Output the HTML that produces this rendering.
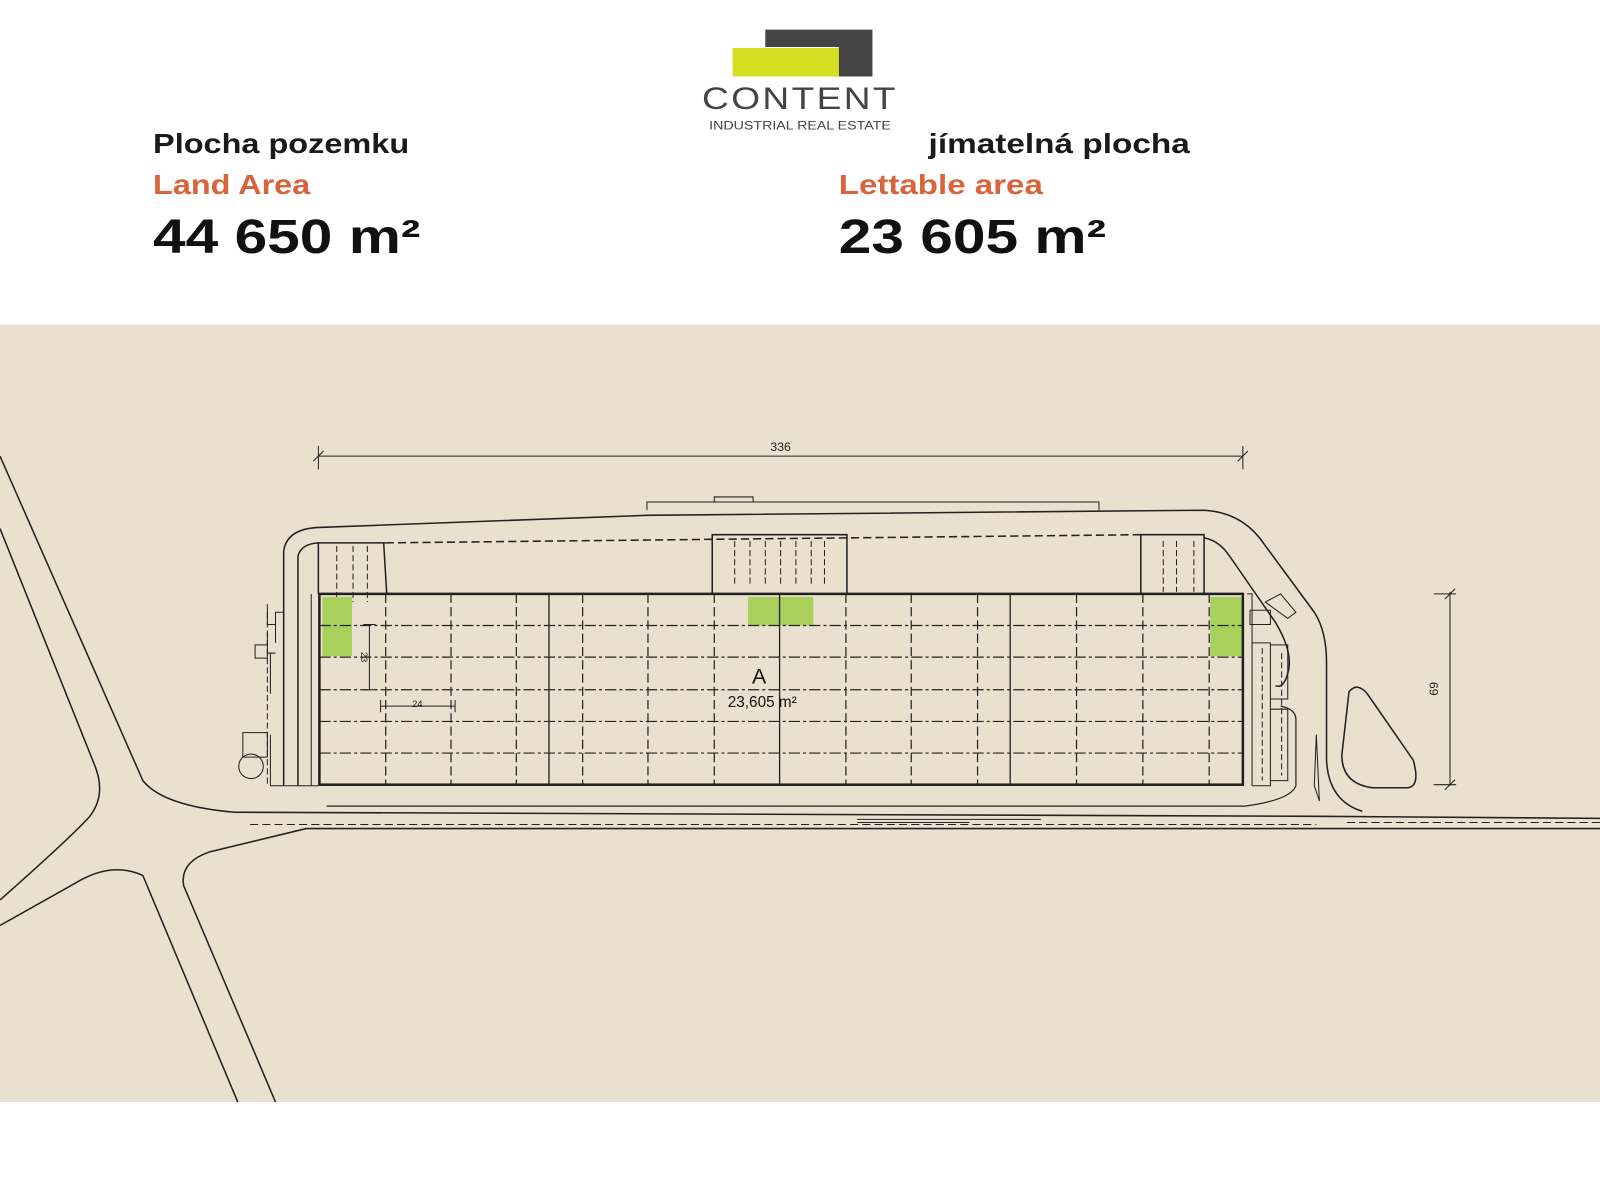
<!DOCTYPE html>
<html><head><meta charset="utf-8"><style>
html,body{margin:0;padding:0;background:#fff;}
svg{display:block;}
text{font-family:"Liberation Sans",sans-serif;}
</style></head><body>
<svg width="1600" height="1200" viewBox="0 0 1568 1176" preserveAspectRatio="none" xmlns="http://www.w3.org/2000/svg">
<rect x="0" y="0" width="1568" height="1176" fill="#fff"/>
<!-- logo -->
<path d="M750,29 H855 V75 H822 V46 H750 Z" fill="#444"/>
<rect x="718" y="47" width="104" height="28" fill="#d4df22"/>
<text x="784" y="107" font-size="31" fill="#444" text-anchor="middle" textLength="192" lengthAdjust="spacingAndGlyphs" letter-spacing="2">CONTENT</text>
<text x="784" y="127" font-size="12" fill="#444" text-anchor="middle" textLength="178" lengthAdjust="spacingAndGlyphs">INDUSTRIAL REAL ESTATE</text>
<!-- headings -->
<text x="150" y="150" font-size="27" font-weight="bold" fill="#1a1a1a" textLength="251" lengthAdjust="spacingAndGlyphs">Plocha pozemku</text>
<text x="150" y="190" font-size="27" font-weight="bold" fill="#d8643c" textLength="154" lengthAdjust="spacingAndGlyphs">Land Area</text>
<text x="150" y="248" font-size="47" font-weight="bold" fill="#111" textLength="262" lengthAdjust="spacingAndGlyphs">44 650 m²</text>
<text x="910" y="150" font-size="27" font-weight="bold" fill="#1a1a1a" textLength="256" lengthAdjust="spacingAndGlyphs">jímatelná plocha</text>
<text x="822" y="190" font-size="27" font-weight="bold" fill="#d8643c" textLength="200" lengthAdjust="spacingAndGlyphs">Lettable area</text>
<text x="822" y="248" font-size="47" font-weight="bold" fill="#111" textLength="262" lengthAdjust="spacingAndGlyphs">23 605 m²</text>
<!-- beige band -->
<rect x="0" y="318" width="1568" height="762" fill="#e9e0cf"/>
<g fill="none" stroke="#222" stroke-width="1.5">
<!-- roads -->
<path d="M0,447 L140,765 Q160,790 230,796 L1290,800 L1568,802"/>
<path d="M0,518 L92,748 Q105,778 88,800 Q70,820 0,882"/>
<path d="M0,907 L80,862 Q112,845 140,858 L233,1080"/>
<path d="M270,1080 L180,868 Q176,845 205,835 L300,812 L1568,812"/>
<path d="M245,808 H1290 M1320,806 H1568" stroke-dasharray="8 4" stroke-width="1"/>
<path d="M840,803 H1020 M840,806 H950" stroke-width="1"/>
<!-- site outline -->
<path d="M278,770 L278,540 Q281,519 310,517 L634,505 L1180,500 Q1215,502 1235,528 L1288,600 Q1300,618 1300,650 L1300,745 Q1302,785 1335,795"/>
<path d="M634,500 V492 H1077 V500 M700,492 V487 H738 V492" stroke-width="1"/>
<path d="M292,770 L292,545 Q295,533 312,532 H378"/>
<path d="M378,532 L1118,524" stroke-dasharray="8 4"/>
<path d="M1180,527 Q1195,530 1205,545 L1250,610 Q1268,640 1262,660 Q1258,675 1250,672"/>
<path d="M1240,590 L1262,606 L1270,600 L1255,582 Z" stroke-width="1"/>
<path d="M1255,692 Q1270,695 1270,705 L1270,770 Q1265,784 1220,790 L320,790" stroke-width="1.2"/>
<path d="M1322,678 Q1330,668 1340,680 L1385,745 Q1392,770 1380,772 L1345,772 Q1315,768 1315,740 Z"/>
<path d="M1290,720 L1293,785 L1288,770 Z" stroke-width="1"/>
<!-- docks -->
<path d="M312,582 V532 M376,532 L379,582"/>
<path d="M330,535 V590 M346,535 V590 M360,535 V590" stroke-dasharray="6 3" stroke-width="1"/>
<path d="M698,582 V524 H830 V582"/>
<path d="M720,530 V575 M735,530 V575 M750,530 V575 M765,530 V575 M780,530 V575 M795,530 V575 M808,530 V575" stroke-dasharray="6 3" stroke-width="1"/>
<path d="M1118,582 V524 H1180 V582"/>
<path d="M1140,530 V580 M1153,530 V580 M1170,530 V580" stroke-dasharray="6 3" stroke-width="1"/>
<!-- left annexes -->
<path d="M305,582 V770 M265,770 H312 M265,770 V720 M265,680 V640 M270,630 V600 L278,600" stroke-width="1"/>
<path d="M262,592 V612 H270 M262,620 V640 H270 M250,632 H262 V645 H250 Z M238,718 H262 V742 H238 Z" stroke-width="1"/>
<circle cx="246" cy="751" r="12" stroke-width="1"/>
<path d="M262,600 V770 M278,590 V770" stroke-dasharray="6 3" stroke-width="1"/>
<!-- right annexes -->
<path d="M1222,582 H1227 V770 M1227,630 H1245 V770 H1227 M1245,632 H1262 V685 H1245 M1245,695 H1262 V765 H1245" stroke-width="1"/>
<path d="M1225,598 H1245 V612 H1225 Z" stroke-width="1"/>
<path d="M1237,635 V765 M1256,640 V760" stroke-dasharray="6 3" stroke-width="1"/>
</g>
<!-- green areas -->
<rect x="316" y="585" width="29" height="58" fill="#a8d05a"/>
<rect x="733" y="585" width="64" height="28" fill="#a8d05a"/>
<rect x="1186" y="585" width="31" height="58" fill="#a8d05a"/>
<!-- building -->
<g fill="none" stroke="#222">
<rect x="313" y="582" width="905" height="187" stroke-width="2.5"/>
<path d="M538,582 V769 M764,582 V769 M990,582 V769" stroke-width="1.3"/>
<path d="M378,582 V769 M442,582 V769 M506,582 V769 M571,582 V769 M635,582 V769 M700,582 V769 M829,582 V769 M893,582 V769 M958,582 V769 M1055,582 V769 M1120,582 V769 M1185,582 V769" stroke-width="1.2" stroke-dasharray="9 4"/>
<path d="M313,613 H1218 M313,644 H1218 M313,676 H1218 M313,707 H1218 M313,738 H1218" stroke-width="1.2" stroke-dasharray="11 3 3 3"/>
<!-- small dims -->
<path d="M362,612 V676 M356,612 H368 M356,676 H368" stroke-width="1"/>
<path d="M373,692 H446 M373,686 V698 M446,686 V698" stroke-width="1"/>
<!-- 336 dim -->
<path d="M312,447 H1218 M312,437 V460 M1218,437 V460 M307,452 L317,442 M1213,452 L1223,442" stroke-width="1"/>
<!-- 69 dim -->
<path d="M1421,580 V770 M1405,582 H1427 M1405,769 H1427 M1416,587 L1426,577 M1416,774 L1426,764" stroke-width="1"/>
</g>
<text x="765" y="442" font-size="12" fill="#222" text-anchor="middle">336</text>
<text x="409" y="693" font-size="9" fill="#222" text-anchor="middle">24</text>
<text transform="translate(354,644) rotate(90)" font-size="9" fill="#222" text-anchor="middle">23</text>
<text transform="translate(1409,675) rotate(-90)" font-size="12" fill="#222" text-anchor="middle">69</text>
<text x="744" y="670" font-size="21" fill="#111" text-anchor="middle">A</text>
<text x="747" y="693" font-size="15" fill="#111" text-anchor="middle">23,605 m²</text>
</svg>
</body></html>
